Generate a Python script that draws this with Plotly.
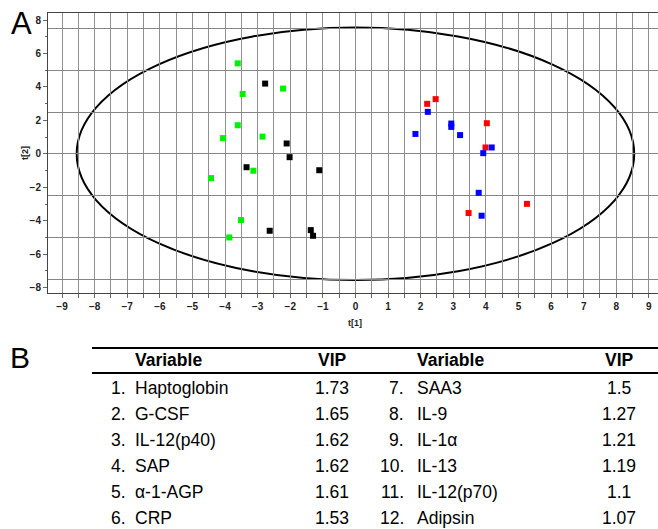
import plotly.graph_objects as go

# ---- Score plot data (t[1], t[2]) ----
green_x = [-3.61, -3.46, -2.22, -3.61, -4.06, -2.85, -3.13, -4.43, -3.51, -3.87]
green_y = [5.41, 3.58, 3.90, 1.71, 0.94, 1.03, -1.01, -1.45, -3.96, -5.00]
black_x = [-2.77, -2.11, -2.02, -3.34, -1.11, -2.63, -1.37, -1.30]
black_y = [4.20, 0.62, -0.20, -0.80, -0.98, -4.60, -4.56, -4.90]
red_x = [2.20, 2.46, 4.03, 3.99, 3.47, 5.26]
red_y = [2.99, 3.27, 1.83, 0.38, -3.54, -2.99]
blue_x = [2.22, 1.84, 2.94, 2.94, 3.21, 4.18, 3.92, 3.78, 3.87]
blue_y = [2.51, 1.19, 1.81, 1.61, 1.12, 0.38, 0.04, -2.33, -3.70]

# Hotelling T2 ellipse semi-axes
ell_a = 8.55
ell_b = 7.55

# ---- VIP table data ----
var_left = ["Haptoglobin", "G-CSF", "IL-12(p40)", "SAP", "α-1-AGP", "CRP"]
vip_left = ["1.73", "1.65", "1.62", "1.62", "1.61", "1.53"]
var_right = ["SAA3", "IL-9", "IL-1α", "IL-13", "IL-12(p70)", "Adipsin"]
vip_right = ["1.5", "1.27", "1.21", "1.19", "1.1", "1.07"]

W, H = 658, 529
FONT = "Arial, Liberation Sans, sans-serif"

def px(x):
    return x / W

def py(y):
    return 1 - y / H

YR = [-8.32, 8.42]

fig = go.Figure()
for xs, ys, col, ax in [(green_x, green_y, "#00f000", "y"), (black_x, black_y, "#000000", "y"),
                        (red_x, red_y, "#ff0000", "y2"), (blue_x, blue_y, "#0000ff", "y2")]:
    fig.add_trace(go.Scatter(x=xs, y=ys, mode="markers",
                             marker=dict(symbol="square", size=6, color=col, line=dict(width=0)),
                             showlegend=False, yaxis=ax))

tickfont = dict(family=FONT, size=10, color="#222", weight="bold")

fig.update_layout(
    width=W, height=H,
    margin=dict(l=0, r=0, t=0, b=0),
    paper_bgcolor="white", plot_bgcolor="white",
    font=dict(family=FONT, color="black"),
    xaxis=dict(domain=[px(48), 1], range=[-9.43, 9.28], dtick=1, tick0=0,
               showgrid=True, gridcolor="#909090", gridwidth=1,
               minor=dict(dtick=0.5, tick0=0, showgrid=True, gridcolor="#909090",
                          ticks="outside", ticklen=4, tickcolor="#666"),
               ticks="outside", ticklen=4, tickcolor="#666",
               showline=True, linecolor="#444", linewidth=1, mirror=True,
               zeroline=False, tickfont=tickfont, anchor="y"),
    yaxis=dict(domain=[py(293), py(13)], range=YR, dtick=2.5, tick0=0,
               showgrid=True, gridcolor="#858585", gridwidth=1,
               showticklabels=False, ticks="", zeroline=False, showline=False,
               anchor="x"),
    yaxis2=dict(overlaying="y", range=YR, dtick=2, tick0=0,
                showgrid=False, zeroline=False,
                ticks="outside", ticklen=4, tickcolor="#666",
                minor=dict(dtick=1, tick0=0, ticks="outside", ticklen=2, tickcolor="#666"),
                showline=True, linecolor="#444", linewidth=1,
                tickfont=tickfont, side="left", anchor="x"),
)

# Ellipse
fig.add_shape(type="circle", xref="x", yref="y", x0=-ell_a, x1=ell_a, y0=-ell_b, y1=ell_b,
              line=dict(color="black", width=2), layer="below")

ann = []
ann.append(dict(text="A", x=px(9), y=py(24), xanchor="left", yanchor="middle",
                font=dict(size=31, family=FONT, color="black")))
ann.append(dict(text="B", x=px(8), y=py(357), xanchor="left", yanchor="middle",
                font=dict(size=30, family=FONT, color="black")))
ann.append(dict(text="t[2]", x=px(25), y=py(153), textangle=-90, xanchor="center", yanchor="middle",
                font=dict(size=9, family=FONT, color="#222", weight="bold")))
ann.append(dict(text="t[1]", x=px(355), y=py(323), xanchor="center", yanchor="middle",
                font=dict(size=9, family=FONT, color="#222", weight="bold")))

hdr = dict(size=17.5, family=FONT, color="black", weight="bold")
body = dict(size=17.5, family=FONT, color="black")
hy = 360
ann.append(dict(text="Variable", x=px(133), y=py(hy), xanchor="left", yanchor="middle", font=hdr))
ann.append(dict(text="VIP", x=px(332), y=py(hy), xanchor="center", yanchor="middle", font=hdr))
ann.append(dict(text="Variable", x=px(415), y=py(hy), xanchor="left", yanchor="middle", font=hdr))
ann.append(dict(text="VIP", x=px(619), y=py(hy), xanchor="center", yanchor="middle", font=hdr))

row_y0, row_dy = 388, 26
for i in range(6):
    yy = py(row_y0 + i * row_dy)
    ann.append(dict(text=f"{i + 1}.", x=px(128), y=yy, xanchor="right", yanchor="middle", font=body))
    ann.append(dict(text=var_left[i], x=px(133), y=yy, xanchor="left", yanchor="middle", font=body))
    ann.append(dict(text=vip_left[i], x=px(332), y=yy, xanchor="center", yanchor="middle", font=body))
    ann.append(dict(text=f"{i + 7}.", x=px(406), y=yy, xanchor="right", yanchor="middle", font=body))
    ann.append(dict(text=var_right[i], x=px(415), y=yy, xanchor="left", yanchor="middle", font=body))
    ann.append(dict(text=vip_right[i], x=px(619), y=yy, xanchor="center", yanchor="middle", font=body))

for a in ann:
    a.update(xref="paper", yref="paper", showarrow=False)
fig.update_layout(annotations=ann)

# Table rules
for yline in (348, 373):
    fig.add_shape(type="line", xref="paper", yref="paper", x0=px(92), x1=1,
                  y0=py(yline), y1=py(yline), line=dict(color="black", width=2))

fig.write_html("out.html", config={"displayModeBar": False},
               post_script="document.body.style.margin='0';document.body.style.overflow='hidden';")
